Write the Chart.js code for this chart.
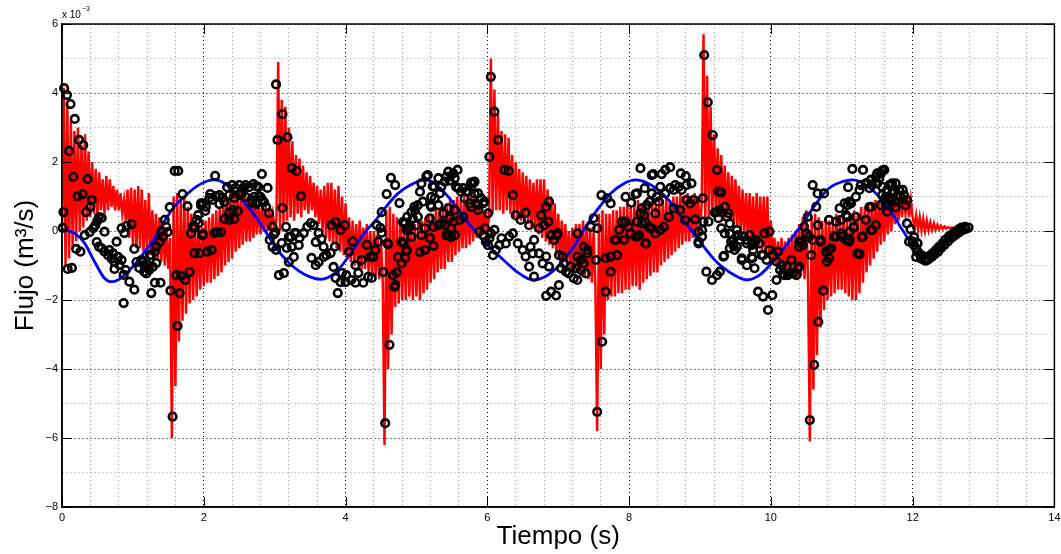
<!DOCTYPE html>
<html>
<head>
<meta charset="utf-8">
<script src="https://cdn.jsdelivr.net/npm/chart.js@4.4.1/dist/chart.umd.min.js"></script>
<style>
    html, body { margin: 0; padding: 0; background: #fff; }
    #wrap { width: 1061px; height: 554px; }
</style>
</head>
<body>
<div id="wrap"><canvas id="chart" width="1061" height="554"></canvas></div>
<script>
// all flow values are in units of 1e-3 m^3/s (the axis shows "x 10^-3")

// red signal, one sample every redStep seconds starting at t = 0
var redStep = 0.025;
var redFlow = [
    0.1, 4.15, -1.0, 3.7, -0.8, 3.2, -0.5, 2.9, -0.3, 3.0, 0.0, 2.5, 0.1, 2.8, 0.3, 2.3, 0.4, 2.0, 0.5, 1.8,
    0.4, 1.7, 0.6, 1.5, 0.5, 1.6, 0.6, 1.5, 0.7, 1.3, 0.6, 1.2, 0.6, 1.1, 0.5, 0.9, 0.3, 1.2, -0.2, 1.25,
    -0.4, 1.2, -0.5, 1.3, -0.5, 1.2, -0.6, 0.9, -0.6, 1.1, -0.7, 0.6, -0.8, 0.5, -0.8, 0.4, -0.9, 0.3, -1.0, 0.1,
    -1.1, -0.2,
    -6.0,
    1.0, -4.5, 1.1, -3.2, 0.9, -2.6, 1.0, -2.4, 0.7, -2.1, 0.5, -2.0, 0.3, -1.9, 0.2, -1.7, 0.1, -1.6, 0.3, -1.5,
    0.4, -1.5, 0.5, -1.4, 0.6, -1.3, 0.7, -1.2, 0.9, -1.0, 1.0, -0.9, 1.2, -0.8, 1.1, -0.6, 1.2, -0.5, 1.1, -0.4,
    1.2, -0.3, 1.0, -0.3, 1.0, -0.2, 0.9, -0.1, 0.8, -0.1, 0.7, 0.0, 0.7, 0.0, 0.6, 0.1, 0.5, 0.1, 0.3,
    4.9,
    0.0, 3.8, 0.2, 3.6, 0.3, 3.0, 0.4, 2.6, 0.3, 2.2, 0.5, 2.1, 0.4, 1.9, 0.6, 1.7, 0.5, 1.6, 0.6, 1.4,
    0.4, 1.3, 0.2, 1.2, 0.0, 1.3, -0.2, 1.4, -0.3, 1.4, -0.4, 1.2, -0.5, 1.3, -0.6, 1.0, -0.7, 0.8, -0.8, 0.4,
    -0.9, 0.3, -1.0, 0.2, -1.0, 0.3, -1.1, 0.1, -1.1, 0.2, -1.2, 0.0, -1.3, 0.0, -1.3, -0.1, -1.4, -0.2, -1.5,
    -6.2,
    0.6, -4.0, 0.7, -3.0, 0.5, -2.2, 0.4, -2.1, 0.3, -2.0, 0.2, -2.0, 0.4, -1.9, 0.3, -2.0, 0.2, -1.9, 0.3, -2.0,
    0.3, -1.8, 0.4, -1.7, 0.5, -1.5, 0.5, -1.4, 0.7, -1.2, 0.6, -1.1, 0.7, -1.1, 0.8, -0.9, 0.9, -0.9, 0.9, -0.7,
    1.0, -0.6, 0.9, -0.5, 1.0, -0.5, 1.0, -0.4, 1.0, -0.3, 0.9, -0.2, 0.8, -0.2, 0.7, -0.1, 0.6, 0.0, 0.4,
    5.0,
    0.5, 4.1, 0.6, 3.4, 0.6, 2.9, 0.5, 2.8, 0.6, 2.7, 0.5, 2.2, 0.4, 2.0, 0.4, 1.8, 0.3, 1.7, 0.3, 1.6,
    0.2, 1.5, 0.1, 1.4, 0.0, 1.5, -0.1, 1.5, -0.2, 1.5, -0.3, 1.2, -0.4, 1.0, -0.5, 0.8, -0.7, 0.5, -0.8, 0.3,
    -0.9, 0.2, -1.0, 0.0, -1.1, 0.1, -1.2, 0.2, -1.2, 0.2, -1.3, 0.3, -1.3, 0.2, -1.4, 0.1, -1.5, 0.0, -1.6,
    -5.8,
    0.5, -4.0, 0.6, -3.0, 0.5, -2.0, 0.5, -1.9, 0.6, -1.9, 0.6, -1.8, 0.7, -1.8, 0.7, -1.7, 0.8, -1.7, 0.7, -1.6,
    0.8, -1.6, 0.9, -1.7, 0.8, -1.5, 0.9, -1.4, 0.8, -1.3, 0.9, -1.2, 0.8, -1.2, 0.9, -1.0, 0.9, -0.9, 1.0, -0.8,
    0.9, -0.7, 1.0, -0.6, 1.0, -0.5, 1.1, -0.4, 1.0, -0.3, 1.1, -0.3, 1.0, -0.2, 1.1, -0.1, 1.0, 0.0, 0.8,
    5.7,
    0.3, 4.5, 0.4, 3.6, 0.5, 2.8, 0.5, 2.4, 0.4, 2.2, 0.5, 1.9, 0.4, 1.7, 0.3, 1.6, 0.2, 1.5, 0.1, 1.3,
    0.0, 1.2, -0.1, 1.1, -0.2, 1.1, -0.3, 1.0, -0.4, 1.1, -0.5, 1.0, -0.6, 1.0, -0.7, 1.0, -0.8, 0.3, -0.9, -0.2,
    -1.0, -0.3, -1.1, -0.2, -1.2, -0.3, -1.2, -0.2, -1.3, -0.1, -1.3, 0.0, -1.4, 0.2, -1.3, 0.4, -1.4, 0.6, -1.5,
    -6.1,
    0.4, -4.6, 0.5, -3.6, 0.4, -2.8, 0.3, -2.3, 0.4, -2.0, 0.3, -1.9, 0.4, -1.8, 0.5, -1.7, 0.4, -1.7, 0.5, -1.8,
    0.4, -1.9, 0.5, -2.0, 0.6, -2.0, 0.5, -1.8, 0.7, -1.5, 0.7, -1.2, 0.8, -1.0, 0.8, -0.8, 0.9, -0.6, 0.9, -0.4,
    1.0, -0.3, 1.0, -0.1, 1.0, 0.0, 1.1, 0.2, 1.0, 0.3, 1.1, 0.4, 1.0, 0.5, 1.0, 0.4, 0.9, 0.4,
    0.1, 0.45, 0.05, 0.4, 0.02, 0.35, 0.0, 0.3, 0.02, 0.25, 0.03, 0.22, 0.04, 0.18, 0.05, 0.15, 0.06, 0.13, 0.07, 0.11,
    0.08, 0.1, 0.09, 0.09
];

// blue reference curve
var blueTime = [
    0, 0.18, 0.32, 0.46, 0.6, 0.7, 0.79, 0.88, 1.02, 1.16, 1.31, 1.45, 1.59, 1.7, 1.89, 2.05, 2.15, 2.26, 2.45, 2.64,
    2.83, 3.01, 3.18, 3.35, 3.5, 3.65, 3.85, 4.0, 4.12, 4.28, 4.42, 4.55, 4.74, 4.98, 5.12, 5.26, 5.45, 5.63, 5.87, 6.01,
    6.24, 6.43, 6.64, 6.8, 7.04, 7.22, 7.36, 7.55, 7.74, 7.93, 8.1, 8.25, 8.39, 8.58, 8.77, 8.98, 9.19, 9.3, 9.52, 9.66,
    9.84, 10.03, 10.22, 10.38, 10.45, 10.64, 10.82, 11.01, 11.15, 11.34, 11.53, 11.71, 11.85, 11.95
];
var blueFlow = [
    0.05, -0.07, -0.36, -0.89, -1.37, -1.47, -1.42, -1.28, -0.99, -0.62, -0.2, 0.3, 0.72, 0.95, 1.28, 1.45, 1.48, 1.42, 1.09, 0.66,
    0.12, -0.46, -0.88, -1.17, -1.33, -1.4, -1.22, -0.86, -0.5, -0.02, 0.3, 0.65, 1.09, 1.4, 1.48, 1.38, 0.99, 0.51, -0.12, -0.42,
    -0.86, -1.2, -1.42, -1.34, -0.94, -0.45, 0.03, 0.61, 1.09, 1.38, 1.48, 1.4, 1.22, 0.85, 0.32, -0.26, -0.8, -1.02, -1.32, -1.42,
    -1.28, -0.89, -0.41, 0.03, 0.22, 0.8, 1.24, 1.43, 1.48, 1.33, 0.99, 0.51, 0.05, -0.26
];

// black circles, [time, flow]
var measured = [
    [0.01,0.09],[0.02,0.55],[0.03,4.14],[0.07,3.94],[0.12,3.68],[0.18,3.25],[0.10,2.32],[0.24,2.64],[0.30,2.49],[0.16,1.57],
    [0.36,1.51],[0.22,1.01],[0.29,1.07],[0.34,0.55],[0.42,0.90],[0.40,0.70],[0.08,-1.10],[0.14,-1.07],[0.20,-0.52],[0.26,-0.60],
    [0.32,-0.12],[0.39,-0.03],[0.44,0.08],[0.47,0.17],[0.50,0.30],[0.56,0.38],[0.60,-0.02],[0.49,-0.32],[0.52,-0.45],[0.56,-0.50],
    [0.60,-0.60],[0.65,-0.70],[0.70,-0.80],[0.74,-0.90],[0.67,-0.55],[0.72,-0.65],[0.79,-0.75],[0.84,-0.84],[0.77,-0.31],[0.74,-1.10],
    [0.81,-0.98],[0.90,-1.13],[0.95,-1.47],[1.02,-1.70],[0.87,-2.09],[0.87,-1.27],[1.02,-0.52],[0.84,0.08],[0.91,0.15],[0.98,0.20],
    [0.88,-0.06],[0.52,0.40],
    [1.52,0.69],[1.45,0.32],[1.40,-0.02],[1.42,-0.16],[1.38,-0.31],[1.33,-0.45],[1.31,-0.60],[1.26,-0.70],[1.14,-0.90],[1.21,-0.98],
    [1.09,-1.07],[1.16,-1.18],[1.23,-1.13],[1.28,-1.04],[1.33,-0.93],[1.05,-0.90],[1.26,-1.80],[1.31,-1.50],[1.39,-1.50],[1.53,-1.73],
    [1.66,-1.80],[1.61,-1.28],[1.68,-1.30],[1.74,-1.42],[1.80,-1.19],[1.63,-2.75],[1.56,-5.38],[1.77,0.72],[1.96,0.75],[1.93,0.23],
    [1.87,0.08],[1.82,-0.07],[1.98,-0.12],[1.87,-0.64],[1.94,-0.64],[2.05,-0.60],[2.11,-0.55],[1.59,1.74],[1.64,1.74],[1.70,1.07],
    [1.47,0.12],[1.49,-0.03],[1.12,-0.84],[1.19,-1.23],[1.24,-0.70],[1.16,-0.99],[1.85,0.14],[1.90,0.32],[1.92,0.46],[1.96,0.80],
    [1.99,0.80],[2.03,0.70],[2.02,0.58],[1.99,-0.09],
    [2.09,1.07],[2.16,1.60],[2.08,0.96],[2.12,0.90],[2.17,1.01],[2.22,1.04],[2.26,0.96],[2.29,0.84],[2.22,0.78],[2.15,-0.06],
    [2.19,-0.03],[2.24,-0.03],[2.29,0.35],[2.36,0.32],[2.43,0.35],[2.33,1.27],[2.40,1.33],[2.45,1.25],[2.50,1.33],[2.56,1.25],
    [2.59,1.33],[2.64,1.27],[2.70,1.36],[2.36,1.04],[2.43,0.96],[2.50,1.04],[2.54,1.10],[2.59,0.99],[2.67,0.90],[2.71,0.99],
    [2.75,0.84],[2.78,0.99],[2.82,0.90],[2.88,0.70],[2.36,0.55],[2.41,0.61],[2.48,0.58],[2.74,1.30],[2.77,1.27],[2.82,1.65],
    [2.90,1.25],[2.92,0.52],[2.97,0.12],[2.99,-0.10],[3.01,-0.03],[2.93,-0.26],[2.97,-0.46],[2.68,0.81],[2.74,0.78],[2.80,0.99],
    [2.85,0.84],[3.02,-0.55],
    [3.02,4.25],[3.11,3.39],[3.18,2.72],[3.04,2.64],[3.24,1.83],[3.31,1.74],[3.11,0.67],[3.37,1.01],[3.16,0.12],[3.23,-0.17],
    [3.30,-0.06],[3.35,-0.20],[3.41,-0.06],[3.46,0.12],[3.51,0.23],[3.55,0.17],[3.62,-0.06],[3.66,-0.23],[3.69,-0.46],[3.58,-0.32],
    [3.34,-0.41],[3.24,-0.46],[3.17,-0.49],[3.10,-0.35],[3.28,-0.06],[3.20,-0.17],[3.06,-1.28],[3.13,-1.22],[3.20,-0.90],[3.27,-0.75],
    [3.80,0.17],[3.86,0.26],[3.93,0.03],[3.99,0.17],[3.52,-0.78],[3.58,-0.99],[3.62,-0.90],[3.69,-0.75],[3.73,-0.70],[3.79,-0.64],
    [3.83,-1.04],[3.86,-1.36],[3.89,-1.80],[3.93,-1.48],[3.95,-1.22],[4.00,-1.48],[3.85,-0.45],
    [4.01,-1.28],[4.08,-1.42],[4.14,-1.50],[4.18,-1.22],[4.25,-1.50],[4.32,-1.33],[4.37,-1.36],[4.39,-0.75],[4.14,-0.99],[4.23,-0.84],
    [4.35,-0.74],[4.05,-0.60],[4.30,-0.40],[4.42,-0.55],[4.10,-0.30],[4.53,-1.19],[4.67,-1.28],[4.70,-1.57],[4.60,-0.38],[4.72,-1.20],
    [4.69,-1.62],[4.74,-0.75],[4.79,-0.93],[4.84,-0.78],[4.86,-0.58],[4.82,-0.35],[4.93,-0.17],[5.05,-0.61],[5.12,-0.55],[5.19,-0.20],
    [5.24,-0.43],[5.42,-0.12],[5.49,-0.17],[4.62,-3.30],[4.56,-5.57],[4.51,0.55],[4.58,1.07],[4.64,1.54],[4.70,1.33],[4.76,0.81],
    [4.59,-0.35],[4.49,0.09],[4.51,-0.05],[4.44,0.17],[4.46,-0.31],[4.81,0.26],[4.87,0.41],[4.93,0.55],[4.98,0.61],[5.02,0.41],
    [5.00,0.17],[4.91,0.12],[4.86,0.03],[4.79,-0.32],[4.86,-0.55],[4.95,0.37],[4.88,0.08],[4.97,0.70],[5.02,0.75],[4.84,0.22],
    [5.05,1.14],[5.09,0.85],[5.07,1.38],[5.16,1.62],[5.21,0.99],[5.25,1.28],[5.31,1.53],[5.35,1.28],[5.40,1.43],[5.45,1.72],
    [5.52,1.67],[5.58,1.77],[5.33,1.09],[5.21,0.70],[5.19,0.37],[5.38,0.51],[5.45,0.66],[5.54,1.53],[5.59,1.24],[5.66,1.24],
    [5.73,1.14],[5.68,0.95],[5.75,0.80],[5.80,1.38],[5.87,1.09],[5.91,0.95],[5.87,0.75],[5.96,0.85],[5.40,0.17],[5.45,-0.12],
    [5.54,-0.12],[5.49,0.08],[5.61,0.32],[5.66,0.41],[6.01,0.51],[5.97,0.08],[6.03,-0.21],[5.98,-0.31],[6.05,-0.07],[5.14,1.59],
    [5.23,1.30],[5.26,0.95],[5.31,0.75],[5.42,1.57],[5.47,1.46],[5.56,1.28],[5.63,1.14],[5.70,1.14],[5.77,1.40],[5.82,1.43],
    [5.82,1.09],[5.94,0.80],[5.84,0.80],[5.77,0.70],[5.87,0.61],[5.54,0.61],[5.47,0.37],[5.52,0.27],[5.35,0.22],[5.31,0.17],
    [5.24,0.12],[5.12,0.08],[5.07,-0.12],[5.20,0.75],[5.89,-0.02],[5.94,-0.12],[6.01,-0.41],
    [6.05,4.47],[6.10,3.46],[6.15,2.64],[6.03,2.15],[6.24,1.77],[6.30,1.74],[6.36,1.04],[6.40,0.46],[6.47,0.32],[6.54,0.53],
    [6.10,0.03],[6.08,-0.70],[6.12,-0.55],[6.17,-0.41],[6.20,-0.21],[6.26,-0.36],[6.31,-0.16],[6.36,-0.07],[6.43,-0.36],[6.50,-0.55],
    [6.54,-0.74],[6.61,-0.46],[6.64,-0.65],[6.59,-1.03],[6.66,-0.26],[6.73,-0.65],[6.78,-0.94],[6.83,-0.74],[6.87,-1.03],[6.66,-1.32],
    [6.90,-1.76],[6.83,-1.88],[6.97,-1.87],[6.90,-0.12],[6.99,-0.07],[6.59,0.17],[6.73,0.08],[6.80,0.17],[6.86,0.27],[6.76,0.46],
    [6.83,0.70],[6.87,0.85],[6.98,-0.12],[6.94,-0.26],
    [7.01,-0.70],[7.06,-0.74],[7.08,-0.94],[7.04,-1.08],[7.11,-1.18],[7.15,-1.23],[7.18,-1.03],[7.25,-1.08],[7.27,-1.42],[7.22,-1.37],
    [7.32,-1.13],[7.36,-0.94],[7.39,-1.23],[7.41,-0.55],[7.01,-1.57],[7.27,-0.74],[7.32,-0.84],[7.53,-0.84],[7.67,-0.79],[7.74,-1.18],
    [7.67,-1.76],[7.62,-3.21],[7.55,-5.24],[7.74,-0.74],[7.81,-0.26],[7.93,-0.26],[7.83,-0.70],[7.46,0.12],[7.55,0.08],[7.50,0.37],
    [7.61,1.04],[7.69,0.95],[7.74,0.80],[7.80,-0.26],[7.86,0.03],[7.90,0.27],[7.95,0.27],[7.99,0.12],[8.02,-0.07],[7.95,0.99],
    [8.03,0.82],[7.27,-0.07],[7.36,-0.46],[7.41,-0.65],
    [8.09,1.07],[8.11,0.27],[8.16,0.51],[8.21,0.46],[8.18,0.66],[8.23,0.24],[8.28,0.12],[8.16,1.82],[8.32,1.62],[8.23,-0.36],
    [8.32,0.08],[8.37,-0.07],[8.09,-0.16],[8.34,1.65],[8.46,1.65],[8.51,1.77],[8.58,1.85],[8.73,1.67],[8.80,1.59],[8.11,1.09],
    [8.22,1.24],[8.32,1.09],[8.39,0.99],[8.44,1.28],[8.51,1.09],[8.58,1.24],[8.65,1.33],[8.70,1.28],[8.74,1.19],[8.81,1.33],
    [8.88,1.38],[8.63,1.19],[8.29,0.85],[8.25,0.75],[8.37,0.51],[8.42,0.85],[8.56,0.41],[8.63,0.66],[8.72,0.61],[8.81,0.90],
    [8.86,0.80],[8.91,0.90],[8.18,0.22],[8.29,0.08],[8.44,0.03],[8.49,0.12],[8.79,0.32],[8.93,0.34],[8.98,-0.02],[9.03,0.03],
    [9.04,0.95],[8.24,-0.36],[8.11,-0.16],[8.98,-0.31],[8.14,-0.12],[9.03,-0.16],[8.98,-0.36],
    [9.06,5.10],[9.11,3.73],[9.18,2.78],[9.24,1.77],[9.30,1.12],[9.05,0.27],[9.12,0.27],[9.21,0.53],[9.24,0.56],[9.28,0.61],
    [9.35,0.70],[9.38,0.41],[9.42,0.22],[9.40,0.51],[9.26,0.37],[9.26,1.14],[9.30,0.08],[9.35,-0.07],[9.42,-0.07],[9.52,0.03],
    [9.54,-0.12],[9.56,-0.26],[9.47,-0.26],[9.52,-0.46],[9.42,-0.50],[9.44,-0.31],[9.61,-0.16],[9.66,-0.26],[9.70,-0.12],[9.73,-0.36],
    [9.79,-0.26],[9.84,-0.36],[9.91,-0.07],[9.98,-0.02],[9.75,-0.55],[9.33,-0.74],[9.59,-0.79],[9.73,-0.76],[9.89,-0.70],[9.09,-1.18],
    [9.17,-1.42],[9.24,-1.28],[9.28,-1.18],[9.34,-0.72],[9.49,-0.55],[9.59,-0.84],[9.66,-0.99],[9.74,-0.79],[9.77,-1.08],[9.82,-1.76],
    [9.89,-1.90],[9.96,-2.29],[10.02,-1.86],[9.87,-0.70],[9.94,-0.84],[9.98,-0.55],[9.77,-0.31],[9.66,-0.36],[9.73,-0.41],[9.47,-0.41],
    [10.03,-0.70],[10.08,-0.89],[10.10,-0.60],[10.15,-0.99],[10.13,-1.13],[10.08,-1.42],[10.17,-1.23],[10.22,-1.03],[10.29,-0.84],[10.26,-1.23],
    [10.31,-1.23],[10.36,-1.28],[10.38,-1.08],[10.40,-1.03],[10.24,-1.28],[10.19,-1.28],[10.40,-0.31],[10.45,-0.41],[10.54,-0.16],[10.57,-0.70],
    [10.70,-0.26],[10.78,-0.60],[10.82,-0.79],[10.85,-0.50],[10.79,-0.89],[10.92,-0.16],[11.01,-0.16],[11.06,-0.26],[11.10,-0.31],[11.22,-0.65],
    [11.29,-0.16],[10.55,-5.48],[10.61,-3.88],[10.67,-2.63],[10.74,-1.73],[10.59,1.33],[10.66,1.09],[10.75,1.09],[10.64,0.70],[10.52,0.41],
    [10.47,0.12],[10.50,-0.07],[10.43,-0.31],[10.40,-0.46],[10.66,0.17],[10.82,0.32],[10.92,0.27],[10.99,0.32],[11.06,0.46],[10.97,0.66],
    [11.04,0.80],[10.89,-0.16],[10.82,-0.55],[10.70,-0.31],[10.59,-0.26],[10.99,-0.07],
    [11.11,0.85],[11.20,0.99],[11.09,1.27],[11.15,1.80],[11.30,1.77],[11.25,1.19],[11.34,1.38],[11.41,1.48],[11.43,1.33],[11.48,1.57],
    [11.55,1.67],[11.60,1.77],[11.50,1.38],[11.57,1.28],[11.64,1.19],[11.69,1.33],[11.71,1.09],[11.57,1.04],[11.62,0.75],[11.41,0.70],
    [11.34,0.32],[11.43,0.03],[11.29,-0.16],[11.17,0.12],[11.11,-0.02],[11.50,1.67],[11.57,1.75],[11.53,1.53],[11.36,1.38],[11.27,1.33],
    [11.39,1.24],[11.67,1.33],[11.71,1.38],[11.76,1.38],[11.74,1.14],[11.81,1.19],[11.86,1.19],[11.88,1.04],[11.83,0.99],[11.79,1.04],
    [11.62,0.99],[11.60,0.90],[11.67,0.90],[11.71,0.95],[11.76,0.85],[11.92,0.90],[11.90,0.75],[11.76,0.69],[11.64,0.56],[11.39,0.69],
    [11.08,0.41],[11.20,0.41],[11.17,0.10],[11.11,-0.26],[11.29,-0.18],[11.41,0.03],[11.48,0.17],[11.55,0.75],[11.92,0.22],[11.97,0.05],
    [11.25,-0.67],[11.08,0.75],[11.13,0.80],
    [11.95,-0.31],[12.00,-0.31],[12.02,-0.41],[12.05,-0.50],[12.07,-0.60],[12.10,-0.67],[12.14,-0.72],[12.19,-0.79],[12.24,-0.72],[12.28,-0.65],
    [12.33,-0.55],[12.37,-0.46],[12.42,-0.36],[12.46,-0.26],[12.51,-0.16],[12.56,-0.09],[12.60,-0.02],[12.65,0.05],[12.69,0.10],[12.74,0.12],
    [12.79,0.10],[12.02,-0.18],[12.07,-0.36],[12.19,-0.86],[12.12,-0.80],[12.17,-0.85],[12.22,-0.82],[12.27,-0.75],[12.31,-0.68],[12.36,-0.60],
    [12.40,-0.50],[12.45,-0.40],[12.50,-0.30],[12.55,-0.20],[12.60,-0.12],[12.65,-0.05],[12.70,0.02],[12.75,0.06],[12.05,-0.75]
];

var xTicks = [0, 2, 4, 6, 8, 10, 12, 14];
var yTicks = [-8, -6, -4, -2, 0, 2, 4, 6];
var xMinorStep = 0.4;
var yMinorStep = 1;

var FONT = '"Liberation Sans", Arial, Helvetica, sans-serif';

function label(v) {
    return String(v).replace('-', '\u2212');
}

function isMajor(list, v) {
    return list.indexOf(Math.round(v * 1000) / 1000) >= 0;
}

// MATLAB style box: inward ticks on all four sides, outline and the exponent label
var matlabBox = {
    id: 'matlabBox',
    afterDatasetsDraw: function (chart) {
        var ctx = chart.ctx, a = chart.chartArea;
        var sx = chart.scales.x, sy = chart.scales.y;
        var len = 10;

        ctx.save();
        ctx.strokeStyle = '#000';
        ctx.lineWidth = 1;
        ctx.beginPath();
        xTicks.forEach(function (v) {
            var px = Math.round(sx.getPixelForValue(v)) + 0.5;
            ctx.moveTo(px, a.bottom);
            ctx.lineTo(px, a.bottom - len);
            ctx.moveTo(px, a.top);
            ctx.lineTo(px, a.top + len);
        });
        yTicks.forEach(function (v) {
            var py = Math.round(sy.getPixelForValue(v)) + 0.5;
            ctx.moveTo(a.left, py);
            ctx.lineTo(a.left + len, py);
            ctx.moveTo(a.right, py);
            ctx.lineTo(a.right - len, py);
        });
        ctx.stroke();

        ctx.lineWidth = 1.5;
        ctx.strokeRect(a.left, a.top, a.right - a.left, a.bottom - a.top);

        ctx.fillStyle = '#000';
        ctx.textBaseline = 'alphabetic';
        ctx.textAlign = 'left';
        ctx.font = '10px ' + FONT;
        ctx.fillText('x 10', a.left, a.top - 6);
        var w = ctx.measureText('x 10').width;
        ctx.font = '7px ' + FONT;
        ctx.fillText('\u22123', a.left + w + 1, a.top - 13);
        ctx.restore();
    }
};

var redPoints = redFlow.map(function (y, i) {
    return {x: Math.round(i * redStep * 1000) / 1000, y: y};
});
var bluePoints = blueTime.map(function (t, i) {
    return {x: t, y: blueFlow[i]};
});
var measPoints = measured.map(function (p) {
    return {x: p[0], y: p[1]};
});

var gridColor = function (list) {
    return function (ctx) {
        return isMajor(list, ctx.tick.value) ? '#000' : '#9a9a9a';
    };
};

new Chart(document.getElementById('chart'), {
    type: 'scatter',
    data: {
        datasets: [{
            label: 'medido',
            data: measPoints,
            order: 1,
            clip: false,
            pointStyle: 'circle',
            pointRadius: 3.8,
            pointBorderWidth: 2.6,
            pointBorderColor: '#000',
            pointBackgroundColor: 'rgba(0,0,0,0)',
            showLine: false
        }, {
            label: 'referencia',
            data: bluePoints,
            order: 2,
            showLine: true,
            borderColor: '#0000ff',
            borderWidth: 2.8,
            pointRadius: 0,
            tension: 0.4,
            cubicInterpolationMode: 'monotone'
        }, {
            label: 'simulado',
            data: redPoints,
            order: 3,
            showLine: true,
            borderColor: '#ff0000',
            borderWidth: 2.5,
            pointRadius: 0,
            tension: 0
        }]
    },
    options: {
        responsive: false,
        animation: false,
        devicePixelRatio: 1,
        events: [],
        layout: {
            padding: {top: 24, right: 2, left: 0, bottom: 0}
        },
        plugins: {
            legend: {display: false},
            tooltip: {enabled: false}
        },
        scales: {
            x: {
                type: 'linear',
                min: 0,
                max: 14,
                afterFit: function (s) {
                    s.height = 47;
                    s.paddingLeft = 0;
                    s.paddingRight = 0;
                },
                ticks: {
                    stepSize: xMinorStep,
                    autoSkip: false,
                    maxRotation: 0,
                    padding: 4,
                    color: '#000',
                    font: {family: FONT, size: 11},
                    callback: function (v) {
                        return isMajor(xTicks, v) ? label(Math.round(v)) : '';
                    }
                },
                grid: {
                    color: gridColor(xTicks),
                    lineWidth: 1,
                    drawTicks: false
                },
                border: {display: true, color: '#000', width: 1.5, dash: [1, 3]},
                title: {
                    display: true,
                    text: 'Tiempo (s)',
                    color: '#000',
                    font: {family: FONT, size: 26},
                    padding: 2
                }
            },
            y: {
                type: 'linear',
                min: -8,
                max: 6,
                afterFit: function (s) {
                    s.width = 62;
                    s.paddingTop = 0;
                    s.paddingBottom = 0;
                },
                ticks: {
                    stepSize: yMinorStep,
                    autoSkip: false,
                    padding: 4,
                    color: '#000',
                    font: {family: FONT, size: 11},
                    callback: function (v) {
                        return isMajor(yTicks, v) ? label(Math.round(v)) : '';
                    }
                },
                grid: {
                    color: gridColor(yTicks),
                    lineWidth: 1,
                    drawTicks: false
                },
                border: {display: true, color: '#000', width: 1.5, dash: [1, 3]},
                title: {
                    display: true,
                    text: 'Flujo (m\u00b3/s)',
                    color: '#000',
                    font: {family: FONT, size: 26},
                    padding: 10
                }
            }
        }
    },
    plugins: [matlabBox]
});
</script>
</body>
</html>
